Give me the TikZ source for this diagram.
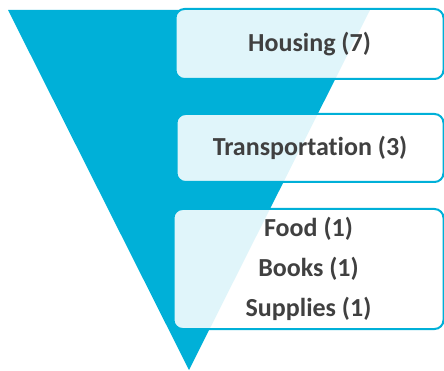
\documentclass[tikz,border=0pt]{standalone}
\usepackage{fontspec}
\setmainfont{Carlito}[Ligatures=NoCommon]
\usetikzlibrary{calc,shapes}
\definecolor{funnelblue}{HTML}{00B0D8}
\definecolor{labelgray}{HTML}{404040}

\begin{document}
\begin{tikzpicture}[x=1pt,y=-1pt,
    catbox/.style={draw=funnelblue, line width=2pt, rounded corners=9pt,
      fill=white, fill opacity=0.88, text opacity=1, text=labelgray,
      font=\fontsize{26}{40}\selectfont\bfseries, align=center,
      inner sep=0pt}]
        \useasboundingbox (0,0) rectangle (444,371);
        % funnel
        \fill[funnelblue] (8,10) -- (370,10) -- (189,370) -- cycle;
        % categories
        \node[catbox, minimum width=268pt, minimum height=70pt] (housing) at (309.5,44) {Housing (7)};
        \node[catbox, minimum width=267pt, minimum height=68pt] (transport) at (310,148) {Transportation (3)};
        \node[catbox, minimum width=270pt, minimum height=120pt] (other) at (308.5,269)
            {Food (1)\\Books (1)\\Supplies (1)};
    \end{tikzpicture}
\end{document}
